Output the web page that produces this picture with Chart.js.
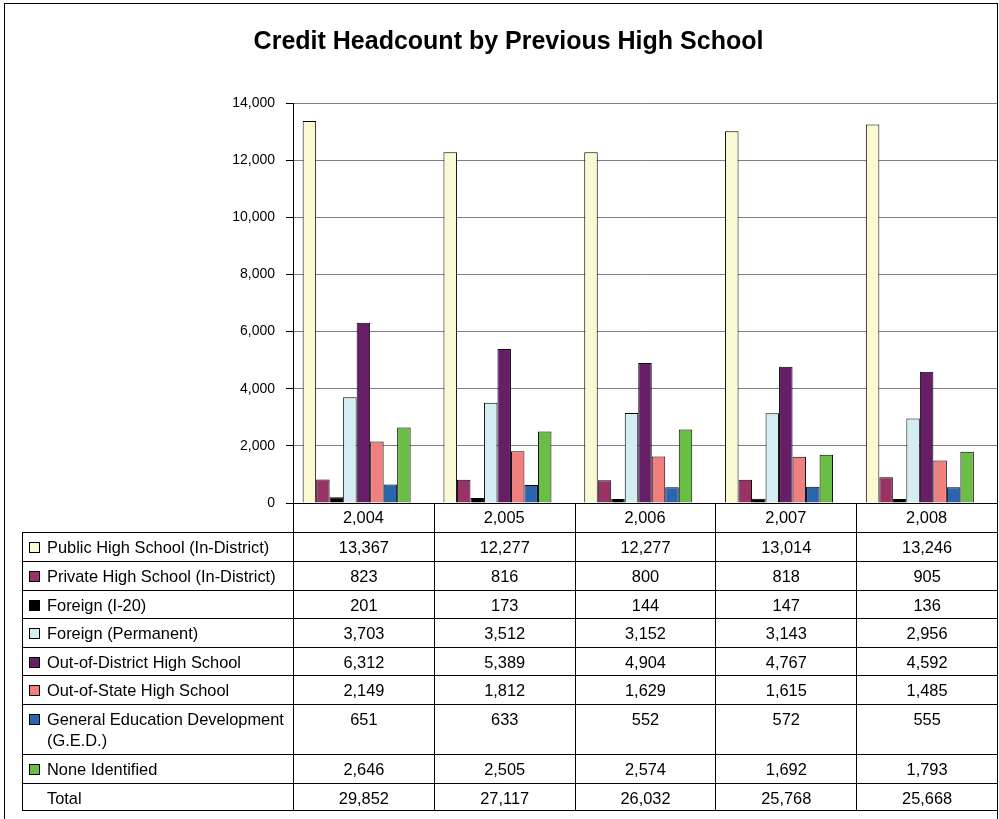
<!DOCTYPE html>
<html>
<head>
<meta charset="utf-8">
<title>Credit Headcount by Previous High School</title>
<script src="https://cdn.jsdelivr.net/npm/chart.js@4.4.0/dist/chart.umd.min.js"></script>
<style>
    body { margin: 0; background: #fff; font-family: 'Liberation Sans', Arial, sans-serif; }
    #frame { position: absolute; left: 4px; top: 3px; width: 992px; height: 830px; border: 1px solid #000; }
    #wrap { position: absolute; left: 20px; top: 0; width: 979px; height: 533px; }
    #dataTable { position: absolute; left: 22px; top: 503px; width: 975px; border-collapse: collapse; table-layout: fixed; font-size: 16.4px; color: #000; }
    #dataTable td { border: 1px solid #000; padding: 4px 0 0 0; vertical-align: top; line-height: 21px; text-align: center; }
    #dataTable td.lbl { text-align: left; padding-left: 24px; }
    #dataTable td.blank { border: none; }
    .sw { display: inline-block; width: 9px; height: 9px; border: 1px solid #000; margin-left: -18px; margin-right: 7px; }
</style>
</head>
<body>
<div id="frame"></div>
<div id="wrap"><canvas id="barChart" width="979" height="533"></canvas></div>
<table id="dataTable"></table>
<script>
(function () {

    var categories = ["2,004", "2,005", "2,006", "2,007", "2,008"];
    var seriesNames = [
        "Public High School (In-District)",
        "Private High School (In-District)",
        "Foreign (I-20)",
        "Foreign (Permanent)",
        "Out-of-District High School",
        "Out-of-State High School",
        "General Education Development (G.E.D.)",
        "None Identified"
    ];
    var publicInDistrict = [13367, 12277, 12277, 13014, 13246];
    var privateInDistrict = [823, 816, 800, 818, 905];
    var foreignI20 = [201, 173, 144, 147, 136];
    var foreignPermanent = [3703, 3512, 3152, 3143, 2956];
    var outOfDistrict = [6312, 5389, 4904, 4767, 4592];
    var outOfState = [2149, 1812, 1629, 1615, 1485];
    var ged = [651, 633, 552, 572, 555];
    var noneIdentified = [2646, 2505, 2574, 1692, 1793];
    var totals = [29852, 27117, 26032, 25768, 25668];
    var yTicks = [0, 2000, 4000, 6000, 8000, 10000, 12000, 14000];

    var seriesValues = [publicInDistrict, privateInDistrict, foreignI20, foreignPermanent,
        outOfDistrict, outOfState, ged, noneIdentified];
    var colors = ["#FBF9D3", "#993366", "#000000", "#D3EDF3", "#661F66", "#F08080", "#2A66B0", "#6ABD45"];

    var fontFamily = "'Liberation Sans', Arial, sans-serif";

    function fmt(v) {
        return v.toLocaleString("en-US");
    }

    function buildDatasets() {
        var datasets = [];
        for (var i = 0; i < seriesNames.length; i++) {
            datasets.push({
                label: seriesNames[i],
                data: seriesValues[i],
                backgroundColor: colors[i],
                borderColor: "#000",
                borderWidth: 1,
                borderSkipped: "bottom"
            });
        }
        // empty slot so the cluster sits left of centre, as in the original
        datasets.push({ label: "", data: [], backgroundColor: "transparent", borderWidth: 0 });
        return datasets;
    }

    function buildTable() {
        var html = "<colgroup><col style=\"width:271px\">";
        for (var c = 0; c < categories.length; c++) {
            html += "<col style=\"width:140.8px\">";
        }
        html += "</colgroup>";
        // header row: labels come from the chart's x axis
        html += "<tr style=\"height:29px\"><td class=\"blank\"></td>";
        for (c = 0; c < categories.length; c++) {
            html += "<td></td>";
        }
        html += "</tr>";
        var heights = [29, 29, 28, 29, 28, 29, 50, 29];
        for (var i = 0; i < seriesNames.length; i++) {
            html += "<tr style=\"height:" + heights[i] + "px\"><td class=\"lbl\"><span class=\"sw\" style=\"background:" +
                colors[i] + "\"></span>" + seriesNames[i] + "</td>";
            for (c = 0; c < categories.length; c++) {
                html += "<td>" + fmt(seriesValues[i][c]) + "</td>";
            }
            html += "</tr>";
        }
        html += "<tr style=\"height:27px\"><td class=\"lbl\">Total</td>";
        for (c = 0; c < categories.length; c++) {
            html += "<td>" + fmt(totals[c]) + "</td>";
        }
        html += "</tr>";
        document.getElementById("dataTable").innerHTML = html;
    }

    function initializeChart() {
        var ctx = document.getElementById("barChart").getContext("2d");
        new Chart(ctx, {
            type: "bar",
            data: { labels: categories, datasets: buildDatasets() },
            options: {
                responsive: false,
                animation: false,
                layout: { padding: { left: 0, right: 2, top: 0, bottom: 0 } },
                datasets: { bar: { categoryPercentage: 0.863, barPercentage: 1.0 } },
                plugins: {
                    legend: { display: false },
                    tooltip: { enabled: false },
                    title: {
                        display: true,
                        text: "Credit Headcount by Previous High School",
                        color: "#000",
                        font: { family: fontFamily, size: 25, weight: "bold" },
                        padding: { top: 27, bottom: 46 }
                    }
                },
                scales: {
                    x: {
                        grid: { display: false, drawTicks: false, tickLength: 0 },
                        border: { display: true, color: "#000", width: 1 },
                        ticks: { color: "#000", padding: 6, font: { family: fontFamily, size: 16.4 } },
                        afterFit: function (s) { s.height = 30; }
                    },
                    y: {
                        min: 0,
                        max: 14000,
                        afterBuildTicks: function (s) {
                            s.ticks = yTicks.map(function (v) { return { value: v }; });
                        },
                        ticks: {
                            color: "#000",
                            padding: 11,
                            font: { family: fontFamily, size: 14 },
                            callback: function (v) { return fmt(v); }
                        },
                        grid: { color: "#808080", tickColor: "#000", tickLength: 7, lineWidth: 1 },
                        border: { display: true, color: "#000", width: 1 },
                        afterFit: function (s) { s.width = 273; }
                    }
                }
            }
        });
    }

    buildTable();
    initializeChart();

})();
</script>
</body>
</html>
